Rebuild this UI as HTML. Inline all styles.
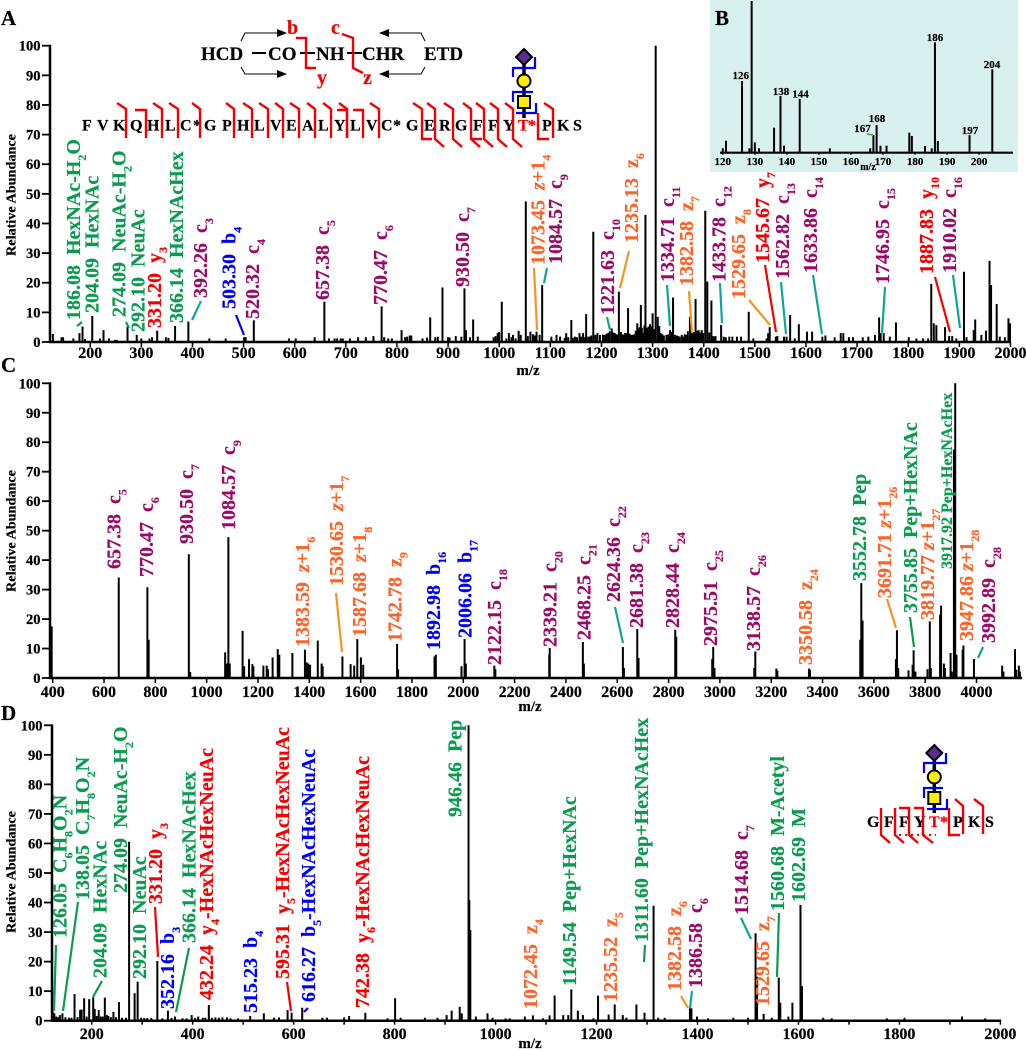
<!DOCTYPE html>
<html lang="en">
<head>
<meta charset="utf-8">
<title>Glycopeptide MS/MS spectra</title>
<style>
html,body{margin:0;padding:0;background:#fff;}
svg{display:block;}
text{font-family:"Liberation Serif",serif;font-weight:bold;fill:#000;stroke:#000;stroke-width:.2;}
.lb{font-size:20px;}
.s{font-size:12px;}
.g{fill:#0a9a50;stroke:#0a9a50;}
.r{fill:#f00000;stroke:#f00000;}
.p{fill:#990a66;stroke:#990a66;}
.o{fill:#fa6428;stroke:#fa6428;}
.b{fill:#0000f0;stroke:#0000f0;}
.ll{stroke-width:2.2;fill:none;}
.lt{stroke:#10a49a;}
.lo{stroke:#f7941e;}
.lr{stroke:#f00000;}
.lb2{stroke:#0000f0;}
.lg{stroke:#0a9a50;}
.br{stroke:#f00000;stroke-width:2.4;fill:none;}
.gb{stroke:#0000f0;stroke-width:2.2;fill:none;}
.ar{stroke:#000;stroke-width:1;fill:none;}
.tk{font-size:16px;text-anchor:middle;}
.yt{font-size:14.5px;text-anchor:end;}
.yl{font-size:14px;}
.mz{font-size:15px;text-anchor:middle;}
.seq{font-size:16px;}
.sm{font-size:11px;text-anchor:middle;}
.bt{font-size:11px;text-anchor:middle;}
</style>
</head>
<body>
<svg id="fig" xmlns="http://www.w3.org/2000/svg" width="1026" height="1050" viewBox="0 0 1026 1050">
<rect x="710" y="0" width="308" height="172" fill="#d9f1ee"/>
<g id="marks"></g>

<text x="1" y="25" font-size="21">A</text>
<text x="715" y="25" font-size="21">B</text>
<text x="1" y="372" font-size="21">C</text>
<text x="1" y="720" font-size="21">D</text>

<text class="yl" transform="translate(15.5,256) rotate(-90)" textLength="122" lengthAdjust="spacingAndGlyphs">Relative Abundance</text>
<text class="yl" transform="translate(15.5,592) rotate(-90)" textLength="122" lengthAdjust="spacingAndGlyphs">Relative Abundance</text>
<text class="yl" transform="translate(15.5,933) rotate(-90)" textLength="122" lengthAdjust="spacingAndGlyphs">Relative Abundance</text>
<text class="mz" x="528" y="375">m/z</text>
<text class="mz" x="530" y="711">m/z</text>
<text class="mz" x="530" y="1048">m/z</text>
<text x="868" y="170" font-size="10" text-anchor="middle">m/z</text>

<!-- Fragmentation scheme -->
<g>
<text x="201" y="60" font-size="19">HCD</text>
<text x="268" y="60" font-size="19">CO</text>
<text x="316" y="60" font-size="19">NH</text>
<text x="362" y="60" font-size="19">CHR</text>
<text x="424" y="60" font-size="19">ETD</text>
<path d="M252 53H266M300 53H315M347 53H362" stroke="#000" stroke-width="2" fill="none"/>
<path class="br" d="M296 38H306V68H316"/>
<path class="br" d="M342 34L353 38V68L363 73"/>
<text class="r" x="287" y="34" font-size="20">b</text>
<text class="r" x="331" y="34" font-size="20">c</text>
<text class="r" x="317" y="84" font-size="20">y</text>
<text class="r" x="363" y="84" font-size="20">z</text>
<path class="ar" d="M241 41L245 33H280M241 67L245 74H280M425 41L421 33H385M425 67L421 74H385"/>
<path d="M287 33L277 29V37ZM287 74L277 70V78ZM379 33L389 29V37ZM379 74L389 70V78Z" fill="#000"/>
</g>

<!-- Panel A sequence -->
<g>
<text class="seq" y="130.5" x="82 97 113 130 147 165 180 193 204 222 237 254 270 286 302 318 334 350 366 381 393 406 424 439 455 473 488 503">FVKQHLC*GPHLVEALYLVC*GERGFFY</text>
<text class="seq r" y="130.5" x="518 528">T*</text>
<text class="seq" y="130.5" x="542 557 573">PKS</text>
<path class="br" d="M117 103L126 109V138M153 103L162 109V138M169 103L178 109V138M192 103L200 109V138M226 103L234 109V138M243 103L252 109V138M259 103L268 109V138M275 103L283 109V138M290 103L299 109V138M307 103L315 109V138M323 103L331 109V138M339 103L347 109V138M370 103L379 109V138"/>
<path class="br" d="M135 110H146V138M337 110H347V138M353 110H363V138"/>
<path class="br" d="M413 103L422 109V139H432M427 103L435 109V139L444 147M444 103L453 109V139L462 147M463 103L471 109V139L480 147M471 139H482M476 103L484 109V139L493 147M490 103L498 109V139L507 147M505 103L513 109V139L522 147"/>
<path class="br" d="M538 113V139H549M544 103L553 109V138"/>
</g>
<!-- Panel A glycan -->
<g>
<line x1="524" y1="60" x2="524" y2="118" stroke="#000" stroke-width="3.5"/>
<path d="M524 49L532 57L524 65L516 57Z" fill="#5a2d91" stroke="#000" stroke-width="2"/>
<circle cx="524" cy="81" r="6.5" fill="#ffee00" stroke="#000" stroke-width="2"/>
<rect x="518" y="96" width="12" height="12" fill="#ffee00" stroke="#000" stroke-width="2"/>
<path class="gb" d="M513 77V68H535V57M513 102V92H533M516 113H536V103"/>
</g>

<!-- Panel A labels -->
<g>
<text class="lb g" transform="translate(80,320) rotate(-90)">186.08&nbsp;&nbsp;HexNAc-H<tspan class="s" dy="6">2</tspan><tspan dy="-6">O</tspan></text>
<text class="lb g" transform="translate(98.7,313) rotate(-90)">204.09&nbsp;&nbsp;HexNAc</text>
<text class="lb g" transform="translate(125.3,317) rotate(-90)">274.09&nbsp;&nbsp;NeuAc-H<tspan class="s" dy="6">2</tspan><tspan dy="-6">O</tspan></text>
<text class="lb g" transform="translate(144.3,332) rotate(-90)">292.10&nbsp;&nbsp;NeuAc</text>
<text class="lb r" transform="translate(161,328) rotate(-90)">331.20&nbsp;&nbsp;y<tspan class="s" dy="6">3</tspan></text>
<text class="lb g" transform="translate(183,323) rotate(-90)">366.14&nbsp;&nbsp;HexNAcHex</text>
<text class="lb p" transform="translate(207,298) rotate(-90)">392.26&nbsp;&nbsp;c<tspan class="s" dy="6">3</tspan></text>
<text class="lb b" transform="translate(235.7,309) rotate(-90)">503.30&nbsp;&nbsp;b<tspan class="s" dy="6">4</tspan></text>
<text class="lb p" transform="translate(259,319) rotate(-90)">520.32&nbsp;&nbsp;c<tspan class="s" dy="6">4</tspan></text>
<text class="lb p" transform="translate(329,300) rotate(-90)">657.38&nbsp;&nbsp;c<tspan class="s" dy="6">5</tspan></text>
<text class="lb p" transform="translate(387,305) rotate(-90)">770.47&nbsp;&nbsp;c<tspan class="s" dy="6">6</tspan></text>
<text class="lb p" transform="translate(469,287) rotate(-90)">930.50&nbsp;&nbsp;c<tspan class="s" dy="6">7</tspan></text>
<text class="lb o" transform="translate(544.3,265) rotate(-90)">1073.45&nbsp;&nbsp;<tspan font-style="italic">z</tspan>+1<tspan class="s" dy="6">4</tspan></text>
<text class="lb p" transform="translate(562,264) rotate(-90)">1084.57&nbsp;&nbsp;c<tspan class="s" dy="6">9</tspan></text>
<text class="lb p" transform="translate(614,315) rotate(-90)">1221.63&nbsp;&nbsp;c<tspan class="s" dy="6">10</tspan></text>
<text class="lb o" transform="translate(638,243) rotate(-90)">1235.13&nbsp;&nbsp;z<tspan class="s" dy="6">6</tspan></text>
<text class="lb p" transform="translate(674,282) rotate(-90)">1334.71&nbsp;&nbsp;c<tspan class="s" dy="6">11</tspan></text>
<text class="lb o" transform="translate(693,286) rotate(-90)">1382.58&nbsp;&nbsp;z<tspan class="s" dy="6">7</tspan></text>
<text class="lb p" transform="translate(725.7,282) rotate(-90)">1433.78&nbsp;&nbsp;c<tspan class="s" dy="6">12</tspan></text>
<text class="lb o" transform="translate(745,299) rotate(-90)">1529.65&nbsp;&nbsp;z<tspan class="s" dy="6">8</tspan></text>
<text class="lb r" transform="translate(769,263) rotate(-90)">1545.67&nbsp;&nbsp;y<tspan class="s" dy="6">7</tspan></text>
<text class="lb p" transform="translate(789,279) rotate(-90)">1562.82&nbsp;&nbsp;c<tspan class="s" dy="6">13</tspan></text>
<text class="lb p" transform="translate(817,273) rotate(-90)">1633.86&nbsp;&nbsp;c<tspan class="s" dy="6">14</tspan></text>
<text class="lb p" transform="translate(889,284) rotate(-90)">1746.95&nbsp;&nbsp;c<tspan class="s" dy="6">15</tspan></text>
<text class="lb r" transform="translate(933,274) rotate(-90)">1887.83&nbsp;&nbsp;y<tspan class="s" dy="6">10</tspan></text>
<text class="lb p" transform="translate(956,273) rotate(-90)">1910.02&nbsp;&nbsp;c<tspan class="s" dy="6">16</tspan></text>
</g>
<g class="ll">
<path class="ll lg" d="M77 326L82 322M126 322L129 328"/>
<path class="ll lt" d="M192 320L201 301M547 268L544 283M607 317L610 330M667 285L670 326M720 283L722 323M781 282L786 334M813 275L822 334M885 287L882 333M953 275L960 328"/>
<path class="ll lb2" d="M236 315L244 335"/>
<path class="ll lo" d="M534 268L537 330M629 251L620 288M689 291L692 333M749 300L770 325"/>
<path class="ll lr" d="M765 265L776 332M935 277L950 332"/>
</g>

<!-- Panel C labels -->
<g>
<text class="lb p" transform="translate(120.7,569) rotate(-90)">657.38&nbsp;&nbsp;c<tspan class="s" dy="6">5</tspan></text>
<text class="lb p" transform="translate(153,577) rotate(-90)">770.47&nbsp;&nbsp;c<tspan class="s" dy="6">6</tspan></text>
<text class="lb p" transform="translate(193,544) rotate(-90)">930.50&nbsp;&nbsp;c<tspan class="s" dy="6">7</tspan></text>
<text class="lb p" transform="translate(235,530) rotate(-90)">1084.57&nbsp;&nbsp;c<tspan class="s" dy="6">9</tspan></text>
<text class="lb o" transform="translate(309,647) rotate(-90)">1383.59&nbsp;&nbsp;<tspan font-style="italic">z</tspan>+1<tspan class="s" dy="6">6</tspan></text>
<text class="lb o" transform="translate(343,586) rotate(-90)">1530.65&nbsp;&nbsp;<tspan font-style="italic">z</tspan>+1<tspan class="s" dy="6">7</tspan></text>
<text class="lb o" transform="translate(366,637) rotate(-90)">1587.68&nbsp;&nbsp;<tspan font-style="italic">z</tspan>+1<tspan class="s" dy="6">8</tspan></text>
<text class="lb o" transform="translate(401.7,642) rotate(-90)">1742.78&nbsp;&nbsp;z<tspan class="s" dy="6">9</tspan></text>
<text class="lb b" transform="translate(440,650) rotate(-90)">1892.98&nbsp;&nbsp;b<tspan class="s" dy="6">16</tspan></text>
<text class="lb b" transform="translate(471.7,638) rotate(-90)">2006.06&nbsp;&nbsp;b<tspan class="s" dy="6">17</tspan></text>
<text class="lb p" transform="translate(501,665) rotate(-90)">2122.15&nbsp;&nbsp;c<tspan class="s" dy="6">18</tspan></text>
<text class="lb p" transform="translate(556.7,647) rotate(-90)">2339.21&nbsp;&nbsp;c<tspan class="s" dy="6">20</tspan></text>
<text class="lb p" transform="translate(590.7,640) rotate(-90)">2468.25&nbsp;&nbsp;c<tspan class="s" dy="6">21</tspan></text>
<text class="lb p" transform="translate(620,602) rotate(-90)">2624.36&nbsp;&nbsp;c<tspan class="s" dy="6">22</tspan></text>
<text class="lb p" transform="translate(643,628) rotate(-90)">2681.38&nbsp;&nbsp;c<tspan class="s" dy="6">23</tspan></text>
<text class="lb p" transform="translate(679,628) rotate(-90)">2828.44&nbsp;&nbsp;c<tspan class="s" dy="6">24</tspan></text>
<text class="lb p" transform="translate(717,646) rotate(-90)">2975.51&nbsp;&nbsp;c<tspan class="s" dy="6">25</tspan></text>
<text class="lb p" transform="translate(760,651) rotate(-90)">3138.57&nbsp;&nbsp;c<tspan class="s" dy="6">26</tspan></text>
<text class="lb o" transform="translate(812,665) rotate(-90)">3350.58&nbsp;&nbsp;z<tspan class="s" dy="6">24</tspan></text>
<text class="lb g" transform="translate(866,581) rotate(-90)">3552.78&nbsp;&nbsp;Pep</text>
<text class="lb o" transform="translate(891,598) rotate(-90)">3691.71&nbsp;<tspan font-style="italic">z</tspan>+1<tspan class="s" dy="6">26</tspan></text>
<text class="lb g" transform="translate(917,613) rotate(-90)">3755.85&nbsp;&nbsp;Pep+HexNAc</text>
<text class="lb o" transform="translate(934,620) rotate(-90)">3819.77&nbsp;<tspan font-style="italic">z</tspan>+1<tspan class="s" dy="6">27</tspan></text>
<text class="g" font-size="16" transform="translate(952,569) rotate(-90)">3917.92&nbsp;Pep+HexNAcHex</text>
<text class="lb o" transform="translate(973,641) rotate(-90)">3947.86&nbsp;<tspan font-style="italic">z</tspan>+1<tspan class="s" dy="6">28</tspan></text>
<text class="lb p" transform="translate(995,643) rotate(-90)">3992.89&nbsp;&nbsp;c<tspan class="s" dy="6">28</tspan></text>
</g>
<g>
<path class="ll lo" d="M336 593L342 652M887 599L896 628"/>
<path class="ll lt" d="M615 607L623 643M983 647L978 658"/>
<path class="ll lg" d="M910 617L914 647"/>
</g>

<!-- Panel D labels -->
<g>
<text class="lb g" transform="translate(66.7,938) rotate(-90)">126.05&nbsp;&nbsp;C<tspan class="s" dy="6">6</tspan><tspan dy="-6">H</tspan><tspan class="s" dy="6">8</tspan><tspan dy="-6">O</tspan><tspan class="s" dy="6">2</tspan><tspan dy="-6">N</tspan></text>
<text class="lb g" transform="translate(89,900) rotate(-90)">138.05&nbsp;&nbsp;C<tspan class="s" dy="6">7</tspan><tspan dy="-6">H</tspan><tspan class="s" dy="6">8</tspan><tspan dy="-6">O</tspan><tspan class="s" dy="6">2</tspan><tspan dy="-6">N</tspan></text>
<text class="lb g" transform="translate(106.7,978) rotate(-90)">204.09&nbsp;&nbsp;HexNAc</text>
<text class="lb g" transform="translate(127,893) rotate(-90)">274.09&nbsp;&nbsp;NeuAc-H<tspan class="s" dy="6">2</tspan><tspan dy="-6">O</tspan></text>
<text class="lb g" transform="translate(146,979) rotate(-90)">292.10&nbsp;&nbsp;NeuAc</text>
<text class="lb r" transform="translate(162,904) rotate(-90)">331.20&nbsp;&nbsp;y<tspan class="s" dy="6">3</tspan></text>
<text class="lb b" transform="translate(174,1009) rotate(-90)">352.16&nbsp;&nbsp;b<tspan class="s" dy="6">3</tspan></text>
<text class="lb g" transform="translate(195.7,943) rotate(-90)">366.14&nbsp;&nbsp;HexNAcHex</text>
<text class="lb r" transform="translate(213,1000) rotate(-90)">432.24&nbsp;&nbsp;y<tspan class="s" dy="6">4</tspan><tspan dy="-6">-HexNAcHexNeuAc</tspan></text>
<text class="lb b" transform="translate(257,1013) rotate(-90)">515.23&nbsp;&nbsp;b<tspan class="s" dy="6">4</tspan></text>
<text class="lb r" transform="translate(289,979) rotate(-90)">595.31&nbsp;&nbsp;y<tspan class="s" dy="6">5</tspan><tspan dy="-6">-HexNAcHexNeuAc</tspan></text>
<text class="lb b" transform="translate(315,1002) rotate(-90)">616.27&nbsp;&nbsp;b<tspan class="s" dy="6">5</tspan><tspan dy="-6">-HexNAcHexNeuAc</tspan></text>
<text class="lb r" transform="translate(369,1008) rotate(-90)">742.38&nbsp;&nbsp;y<tspan class="s" dy="6">6</tspan><tspan dy="-6">-HexNAcHexNeuAc</tspan></text>
<text class="lb g" transform="translate(461.7,817) rotate(-90)">946.46&nbsp;&nbsp;Pep</text>
<text class="lb o" transform="translate(537,1009) rotate(-90)">1072.45&nbsp;&nbsp;z<tspan class="s" dy="6">4</tspan></text>
<text class="lb g" transform="translate(576,986) rotate(-90)">1149.54&nbsp;&nbsp;Pep+HexNAc</text>
<text class="lb o" transform="translate(617,1002) rotate(-90)">1235.52&nbsp;&nbsp;z<tspan class="s" dy="6">5</tspan></text>
<text class="lb g" transform="translate(648,942) rotate(-90)">1311.60&nbsp;&nbsp;Pep+HexNAcHex</text>
<text class="lb o" transform="translate(681,991) rotate(-90)">1382.58&nbsp;&nbsp;z<tspan class="s" dy="6">6</tspan></text>
<text class="lb p" transform="translate(702,988) rotate(-90)">1386.58&nbsp;&nbsp;c<tspan class="s" dy="6">6</tspan></text>
<text class="lb p" transform="translate(748,915) rotate(-90)">1514.68&nbsp;&nbsp;c<tspan class="s" dy="6">7</tspan></text>
<text class="lb o" transform="translate(769,1006) rotate(-90)">1529.65&nbsp;&nbsp;z<tspan class="s" dy="6">7</tspan></text>
<text class="lb g" transform="translate(784,911) rotate(-90)">1560.68&nbsp;&nbsp;M-Acetyl</text>
<text class="lb g" transform="translate(805,902) rotate(-90)">1602.69&nbsp;&nbsp;M</text>
</g>
<g>
<path class="ll lg" d="M56 945L54 1011M78 902L63 1011M102 981L93 997M189 948L176 1012M645 945L644 962M779 913L777 977"/>
<path class="ll lr" d="M155 907L158 957M287 982L291 1011"/>
<path class="ll lb2" d="M308 1008L304 1012"/>
<path class="ll lo" d="M681 996L688 1008"/>
<path class="ll lt" d="M692 991L690 1008M741 918L751 939"/>
</g>

<!-- Panel D peptide and glycan -->
<g>
<line x1="934.3" y1="756" x2="934.3" y2="813" stroke="#000" stroke-width="3.5"/>
<path d="M934.3 745L942.3 753L934.3 761L926.3 753Z" fill="#5a2d91" stroke="#000" stroke-width="2"/>
<circle cx="934.3" cy="777" r="6.5" fill="#ffee00" stroke="#000" stroke-width="2"/>
<rect x="928.3" y="792" width="12" height="12" fill="#ffee00" stroke="#000" stroke-width="2"/>
<path class="gb" d="M924 773V763H946V753M924 798V788H943M927 809H947V799"/>
</g>
<g>
<text class="seq" y="827" x="867 884 899 914">GFFY</text>
<text class="seq r" y="827" x="929 940">T*</text>
<text class="seq" y="827" x="953 968 985">PKS</text>
<path class="br" d="M881 808V835L890 843M895 808V835L904 843M899 808H909V835L918 843M914 808H923V835L933 843M949 808V835H960M955 799L963 806V834M974 799L983 806V834"/>
<path d="M899 835H936" stroke="#f00000" stroke-width="2" stroke-dasharray="2 4" fill="none"/>
</g>

<!-- Panel B annotations -->
<g>
<text class="sm" x="740.7" y="79">126</text>
<text class="sm" x="781" y="95">138</text>
<text class="sm" x="800.5" y="97.5">144</text>
<text class="sm" x="862.5" y="132">167</text>
<text class="sm" x="877" y="122">168</text>
<text class="sm" x="935" y="41">186</text>
<text class="sm" x="970" y="134">197</text>
<text class="sm" x="992" y="68">204</text>
<line x1="867" y1="134" x2="873" y2="135" stroke="#2fb04a" stroke-width="1.5"/>
</g>
</svg>
<script>
// Panel A: m/z and relative abundance
var aMz = [127,144,147,167,179,185,190,204,219,226,
237,248,252,273,291,300,316,321,331,348,
353,366,392,433,465,501,504,520,589,602,
639,658,667,678,683,690,694,708,724,739,
754,770,775,783,790,809,816,820,825,828,
850,859,865,875,880,889,900,903,915,926,
932,935,943,949,958,989,993,997,1000,1005,
1014,1019,1024,1032,1038,1027,1042,1052,1061,1073,
1084,1102,1112,1119,1131,1141,1148,1157,1164,1170,
1177,1184,1192,1197,1207,1213,1220,1234,1246,1252,
1261,1270,1277,1282,1286,1292,1300,1306,1310,1316,
1327,1334,1340,1353,1360,1366,1373,1378,1384,1390,
1396,1403,1407,1415,1420,1434,1450,1456,1465,1473,
1488,1497,1523,1526,1529,1541,1544,1557,1562,1569,
1578,1586,1602,1612,1632,1638,1656,1668,1673,1684,
1692,1711,1722,1735,1743,1746,1752,1764,1776,1801,
1816,1829,1839,1845,1850,1855,1872,1880,1886,1894,
1909,1914,1928,1931,1943,1952,1959,1962,1973,1979,
1989,1996,1999,1203,1210,1216,1223,1226,1229,1231,
1238,1241,1244,1249,1255,1258,1264,1267,1273,1275,
1279,1284,1289,1295,1298,1303,1313,1319,1322,1331,
1337,1344,1347,1350,1357,1363,1369,1375,1381,1387,
1393,1399,1411,1418,1423,1439,1443,1128,1135,1144,
1152,1160,1167,1174,1180,1188,1056,1066,1070,1079];
var aAbundance = [2.7,1.6,1.6,1.2,3,5.2,1,8.8,1.2,4,
1.2,0.7,0.7,5.2,2.4,1.2,1.2,1.6,3.8,1.6,
1.4,5.4,6.9,1.2,1.2,1.6,1.6,7.3,1.2,1.2,
1.6,13.6,1.2,1.2,1.2,1.2,1.2,1.2,1.6,1.6,
2,12,1.6,1.2,1.2,4,1.6,1.8,2.2,2.2,
1.2,1.5,8.3,1.6,1.8,18.4,1.6,1.5,2,1.8,
18.1,4,1.6,7.6,1.8,1.6,2,3,3.4,13.6,
1.2,3,1.6,1.2,3.8,2.4,2.4,47.4,3.5,3.5,
19.2,1.8,2.4,1.8,3,7.4,1.8,3,3,9.4,
1.8,37.2,3,2.4,2.4,3,4.6,17,3,11.4,
2.4,6.3,12.5,3,42.9,5.2,9.7,100,8.5,3,
2.4,4,15,1.8,1.8,2.4,8.5,3,14.5,4,
4,44.3,20.4,14,1.8,5.7,1.8,1.8,1.8,1.8,
10.2,1.2,1.2,3,5,1.8,2,1.8,1.8,9.1,
1.2,6,3.5,3.5,1.8,2.2,1.6,3,3,1.6,
1.6,1.6,1.8,2.4,8.3,3,3,1.8,6.6,1.6,
1.2,1.2,1.2,19.6,6.3,5.7,5,2,2,1.2,
23.7,1.6,4,7.6,2.4,3.8,27.4,19.2,12.8,1.8,
1.6,8,6.3,2.5,2.8,3.6,3.2,3,2.6,2.4,
3.4,2.6,2.4,3,2.8,2.4,2.6,3.8,4.6,5,
4.8,5.6,4.8,6,5.2,4.4,5.4,2.6,2.2,2.6,
3.4,2.4,2.2,2,2.4,2.6,3.6,3.2,3.4,3.8,
3.2,3,3.2,2,2,1.8,1.6,1.4,1.6,1.4,
1.6,1.8,1.6,1.8,2.2,2.4,2,2.6,2.2,2.4];
var aTicks = [200,300,400,500,600,700,800,900,1000,1100,1200,1300,1400,1500,1600,1700,1800,1900,2000];

// Panel B: low-mass region
var bMz = [120,121,126,128.3,129,130,131.3,136,138,139.1,144,153.4,166,167,168,169.2,171.1,178.2,179,183.1,185.2,186.2,187.1,197,204.1];
var bAbundance = [2.9,7.9,47.3,2.9,100,6.8,2.9,16.5,37.4,4.6,35.4,2.9,2.9,11.6,18.2,4.6,4.6,13.2,11,4.4,2.9,72.7,7.7,11.6,54.9];
var bTicks = [120,130,140,150,160,170,180,190,200];

// Panel C: ETD of the intact glycopeptide
var cMz = [390,396,657.4,769,774,930.5,936,1072,1084.6,1079,
1090,1140,1146,1165,1178,1182,1221,1234,1239,1257,
1277,1283,1334,1383,1390,1396,1403,1433,1448,1452,
1529,1561,1575,1587,1601,1610,1742,1746,1888,1893,
1993,2005,2010,2121,2125,2337,2335,2466,2470,2622,
2626,2678,2683,2826,2830,2970,2974,2979,3134,3138,
3220,3224,3347,3351,3547,3551,3556,3686,3690,3695,
3735,3751,3755,3762,3809,3818,3822,3858,3862,3873,
3877,3899,3904,3912,3917,3922,3946,3949,3990,4100,
4105,4150,4155,4165,4169];
var cAbundance = [17.5,17.5,34.1,30.8,13,42,2,8.7,47.8,4.9,
4.9,16,4,6.4,4.7,4,4.2,4.2,3,7,
9.8,7.9,8.5,9.6,5.3,4.9,4.5,12.7,4.9,4,
7.3,4.7,4.2,13.2,7,4.5,11.6,3,7.3,7.9,
4,13.2,4.9,4.2,3,10.2,8,12.2,4.9,10.5,
3.4,16.6,6.8,16.4,14,6.4,10.5,3.4,3.4,9,
3.2,2.5,3.2,2.8,13,32.2,19.5,6.4,16.2,3.4,
2.6,4.5,9.4,2.2,3,19.2,3.4,21.5,24.5,4.9,
3.4,8.5,2.2,77.5,100,7.9,9.6,11,6.4,4.2,
2.2,9.8,2.8,4.2,2.2];
var cTicks = [400,600,800,1000,1200,1400,1600,1800,2000,2200,2400,2600,2800,3000,3200,3400,3600,3800,4000];

// Panel D: HCD spectrum
var dMz = [123,126,137,142,166,177,180,185,195,203,
206,214,226,230,233,243,254,274.1,285,291,
304,330,351,365,398,411,432,445,459,468,
490,514,541,561,571,588,596,617,657,666,
700,710,742,786,801,812,860,885,903,913,
929,933,946.46,948,950,961,984,994,1020,1028,
1058,1074,1094,1107,1117,1134,1144,1150,1163,1173,
1194,1203,1224,1236,1252,1259,1279,1295,1313,1322,
1335,1385,1388,1399,1421,1471,1500,1515,1518,1531,
1547,1561,1564,1580,1588,1604,1607,1649,1666,1775,
1810,1924,1970,130,134,148,155,160,172,190,
210,218,222,238,248,260,268,298,310,318,
340,358,380,388,405,420,425,438,452,475];
var dAbundance = [3,2.5,1.9,2.5,9,3.6,3.8,7.6,7.3,7.9,
4,3.6,7.8,1.9,1.6,3,6.3,60.6,9.3,13.2,
0.9,20.2,3.4,1.4,1.9,1.4,5.3,1.1,1.1,1.1,
0.8,1.6,2.5,1,1.1,3.6,2.7,4.4,1,1,
1.1,1.6,2.7,0.8,7.6,1,1,1,1.9,3.4,
4.7,2.5,100,40.8,30.7,1.4,2.5,1,0.8,0.8,
1.4,1.8,0.8,1.8,8.5,1.9,1.9,10.6,3.4,1.9,
0.8,8.5,2.1,5.5,1.9,1,5.5,2.7,38.9,1,
1,4.2,4.2,1.4,0.8,1,1,29.6,14.9,2.3,
1,14.6,6.1,1.4,6.1,39.2,11.7,1,0.8,0.8,
1,1.4,0.8,1.4,1.2,1.2,1,1,1.2,1.4,
1.6,1.4,1.4,1.2,1.2,1,1,1,0.9,0.9,
0.8,0.9,0.8,0.8,0.9,1,1,1,1,0.8];
var dTicks = [200,300,400,500,600,700,800,900,1000,1100,1200,1300,1400,1500,1600,1700,1800,1900,2000];
var dTickLabels = [200,400,600,800,1000,1200,1400,1600,1800,2000];
var yTicks = [0,10,20,30,40,50,60,70,80,90,100];

var SVG_NS = 'http://www.w3.org/2000/svg';
var marks = document.getElementById('marks');

function scale(d0, d1, r0, r1) {
  return function (v) { return r0 + (v - d0) * (r1 - r0) / (d1 - d0); };
}

function drawLine(x1, y1, x2, y2, width) {
  var el = document.createElementNS(SVG_NS, 'line');
  el.setAttribute('x1', x1);
  el.setAttribute('y1', y1);
  el.setAttribute('x2', x2);
  el.setAttribute('y2', y2);
  el.setAttribute('stroke', '#000');
  el.setAttribute('stroke-width', width);
  marks.appendChild(el);
  return el;
}

function drawText(x, y, cls, str) {
  var el = document.createElementNS(SVG_NS, 'text');
  el.setAttribute('x', x);
  el.setAttribute('y', y);
  el.setAttribute('class', cls);
  el.textContent = str;
  marks.appendChild(el);
  return el;
}

function drawPeaks(mz, abundance, x, y, width) {
  for (var i = 0; i < mz.length; i++) {
    var bar = drawLine(x(mz[i]), y(0), x(mz[i]), y(abundance[i]), width);
    
    
  }
}

function drawXTicks(ticks, labels, x, y0, tickLen, labelY, cls) {
  ticks.forEach(function (t) {
    var tick = drawLine(x(t), y0, x(t), y0 + tickLen, 1.5);
    
    
  });
  labels.forEach(function (t) {
    var lab = drawText(x(t), labelY, cls, String(t));
    
    
  });
}

function drawYAxis(axisX, y, xEnd) {
  var axis = drawLine(axisX, y(100) - 1, axisX, y(0) + 1, 2.5);
  
  
  var base = drawLine(axisX - 1, y(0), xEnd, y(0), 2.5);
  
  
  yTicks.forEach(function (t) {
    var tick = drawLine(axisX - 8, y(t), axisX, y(t), 1.8);
    
    
    var lab = drawText(axisX - 9.5, y(t) + 5, 'yt', String(t));
    
    
  });
}

// Panel A
var xA = scale(200, 2000, 90.2, 1010.5);
var yA = scale(0, 100, 342, 45.7);
drawPeaks(aMz, aAbundance, xA, yA, 2);
drawYAxis(50, yA, 1011);
drawXTicks(aTicks, aTicks, xA, 342, 5, 358, 'tk');

// Panel B
var xB = scale(120, 204.1, 722.8, 992.3);
var yB = scale(0, 100, 152.7, 1);
drawPeaks(bMz, bAbundance, xB, yB, 2);
var bBase = drawLine(720, 152.7, 1013, 152.7, 2.2);


drawXTicks(bTicks, bTicks, xB, 152.7, 2, 165, 'bt');

// Panel C
var xC = scale(400, 4000, 52.7, 976.5);
var yC = scale(0, 100, 678, 383.3);
drawPeaks(cMz, cAbundance, xC, yC, 2);
drawYAxis(50, yC, 1022);
drawXTicks(cTicks, cTicks, xC, 678, 5, 697, 'tk');

// Panel D
var xD = scale(200, 2000, 91.7, 1000.4);
var yD = scale(0, 100, 1020.7, 725.3);
drawPeaks(dMz, dAbundance, xD, yD, 2);
drawYAxis(52, yD, 1001);
drawXTicks(dTicks, dTickLabels, xD, 1020.7, 4, 1039, 'tk');
</script>
</body>
</html>
